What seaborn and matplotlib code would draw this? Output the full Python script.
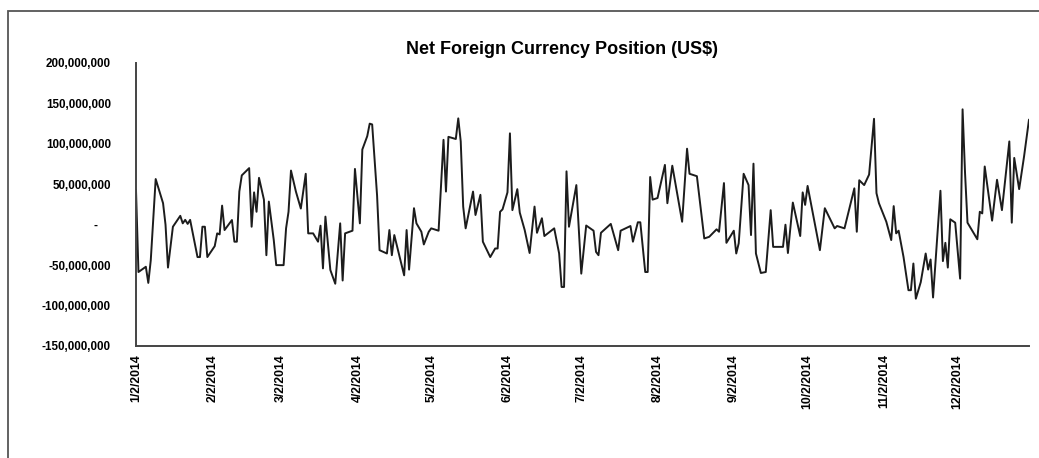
import matplotlib
matplotlib.use("Agg")
import matplotlib.pyplot as plt
import matplotlib.ticker as mticker
from matplotlib.patches import Rectangle
import numpy as np
import pandas as pd
import seaborn as sns

# day of year 2014 for each vertex of the line, grouped by month
day_of_year = [
    2, 3, 6, 7, 8, 10, 13, 14, 15, 17, 20, 21, 22, 23, 24, 27, 28, 29, 30, 31,
    34, 35, 36, 37, 38, 41, 42, 43, 44, 45, 48, 49, 50, 51, 52, 54, 55, 56, 58, 59,
    62, 63, 64, 65, 67, 69, 71, 72, 74, 76, 77, 78, 79, 81, 83, 85, 86, 87, 90,
    91, 93, 94, 96, 97, 98, 100, 101, 104, 105, 106, 107, 111, 112, 113, 115, 116, 118, 119,
    121, 122, 125, 127, 128, 129, 132, 133, 134, 135, 136, 139, 140, 142, 143, 146, 148, 149, 150, 151,
    153, 154, 155, 157, 158, 160, 162, 164, 165, 167, 168, 172, 174, 175, 176, 177, 178, 181,
    183, 185, 188, 189, 190, 191, 195, 198, 199, 203, 204, 206, 207, 209, 210, 211, 212,
    214, 217, 218, 220, 224, 226, 227, 230, 233, 235, 238, 239, 241, 242,
    245, 246, 247, 249, 251, 252, 253, 254, 256, 258, 260, 261, 265, 266, 267, 269, 272, 273,
    274, 275, 280, 282, 286, 287, 290, 294, 295, 296, 298, 300, 302, 303, 304,
    307, 309, 310, 311, 312, 314, 316, 317, 318, 319, 321, 323, 324, 325, 326, 329, 330, 331, 332, 333,
    335, 337, 338, 339, 340, 344, 345, 346, 347, 350, 352, 354, 357, 358, 359, 361, 363, 365,
]

# net position in millions of US$
net_position_musd = [
    43, -58.5, -52, -72, -44, 56.5, 26.6, 0, -53, -2.5, 11, 1.7, 6, 1, 6, -40, -40, -2.5, -2.5, -40,
    -26.5, -10.7, -12, 23.6, -6.6, 5.8, -21, -21, 41, 61, 70, -2.5, 40, 16, 58, 31, -37.7, 28.6, -19, -50,
    -50, -4.5, 16, 67, 41, 20, 63, -10.7, -10.7, -21, -1.2, -54, 10, -56, -73, 1.7, -69, -10.7, -7.4,
    69, 1.7, 93, 109.5, 125, 124, 36, -31.5, -35.6, -6.6, -37.7, -12.8, -62.6, -6.6, -55.5, 20.4, 1.7, -8.7, -24.4,
    -8.7, -4.5, -7.4, 105, 41, 108.7, 106, 131.5, 103, 22.4, -4.5, 41, 12, 37, -21, -40, -29.4, -29.4, 16, 19,
    40, 113, 18, 44, 15, -6.6, -35, 22.4, -10, 8, -14, -4.5, -35.6, -77, -77, 66, -2.5, 49,
    -60.5, -1, -7.4, -33.6, -37.7, -10, 1, -31.5, -7.4, -1.6, -21, 3, 3, -58.5, -58.5, 59, 31,
    33, 74, 26.6, 73, 3.7, 94, 63, 60, -17, -15, -5.7, -8.7, 51.5, -22.4,
    -7.4, -35.6, -23, 63, 49, -12.8, 75.5, -35.6, -59.7, -58.5, 18, -27.4, -27.4, 0, -35, 27.4, -14, 40,
    24.5, 48, -31.5, 20.4, -4.5, -1.6, -4.5, 45, -8.7, 55, 49, 62, 131, 39, 26.6,
    3.7, -19, 23, -10.7, -7.4, -40, -81, -81, -48, -91.5, -71, -35.6, -55.5, -43, -90, 42, -45, -22.4, -53, 6.7,
    2.5, -66.7, 142.7, 64, 2.5, -18, 16, 14, 72, 5, 55.6, 18, 103, 2.5, 82.6, 44, 84.6, 130,
]

tick_dates = ["2014-01-02", "2014-02-02", "2014-03-02", "2014-04-02", "2014-05-02", "2014-06-02",
              "2014-07-02", "2014-08-02", "2014-09-02", "2014-10-02", "2014-11-02", "2014-12-02"]
tick_labels = ["1/2/2014", "2/2/2014", "3/2/2014", "4/2/2014", "5/2/2014", "6/2/2014",
               "7/2/2014", "8/2/2014", "9/2/2014", "10/2/2014", "11/2/2014", "12/2/2014"]

sns.set_style("white")
plt.rcParams["font.family"] = ["Liberation Sans", "DejaVu Sans"]
plt.rcParams["text.color"] = "black"
plt.rcParams["xtick.labelcolor"] = "black"
plt.rcParams["ytick.labelcolor"] = "black"

dates = pd.Timestamp("2014-01-01") + pd.to_timedelta(np.array(day_of_year) - 1, unit="D")
df = pd.DataFrame({"date": dates, "position": np.array(net_position_musd) * 1e6})

W, H = 1039, 458
fig = plt.figure(figsize=(W / 100, H / 100), dpi=100)
ax = fig.add_axes([136 / W, 1 - 346 / H, (1029 - 136) / W, (346 - 63) / H])

sns.lineplot(data=df, x="date", y="position", color="#1c1c1c", linewidth=1.4, ax=ax)

ax.set_ylim(-150e6, 200e6)
ax.set_xlim(dates[0], dates[-1])
ax.yaxis.set_major_locator(mticker.MultipleLocator(50e6))
ax.yaxis.set_major_formatter(
    mticker.FuncFormatter(lambda v, _: "-    " if abs(v) < 1 else f"{v:,.0f}")
)
ax.set_xticks(pd.to_datetime(tick_dates))
ax.set_xticklabels(tick_labels, rotation=90)
ax.set_xlabel("")
ax.set_ylabel("")

sns.despine(ax=ax)
for side in ("left", "bottom"):
    ax.spines[side].set_color("#444444")
    ax.spines[side].set_linewidth(1.4)
ax.tick_params(axis="y", direction="out", length=3, width=1, color="#444444",
               pad=15, labelsize=8.4, labelcolor="black")
ax.tick_params(axis="x", direction="out", length=4, width=1, color="#444444",
               pad=2, labelsize=8.8, labelcolor="black")
for lab in ax.get_yticklabels() + ax.get_xticklabels():
    lab.set_fontweight("bold")

fig.text(562 / W, 1 - 50 / H, "Net Foreign Currency Position (US$)",
         ha="center", va="center", fontsize=13, fontweight="bold", color="black")

fig.add_artist(Rectangle((8 / W, -0.1), 1.2, 1 - 10.5 / H + 0.1, transform=fig.transFigure,
                         fill=False, edgecolor="#555555", linewidth=1.3))

fig.savefig("out.png", dpi=100)
plt.close(fig)
